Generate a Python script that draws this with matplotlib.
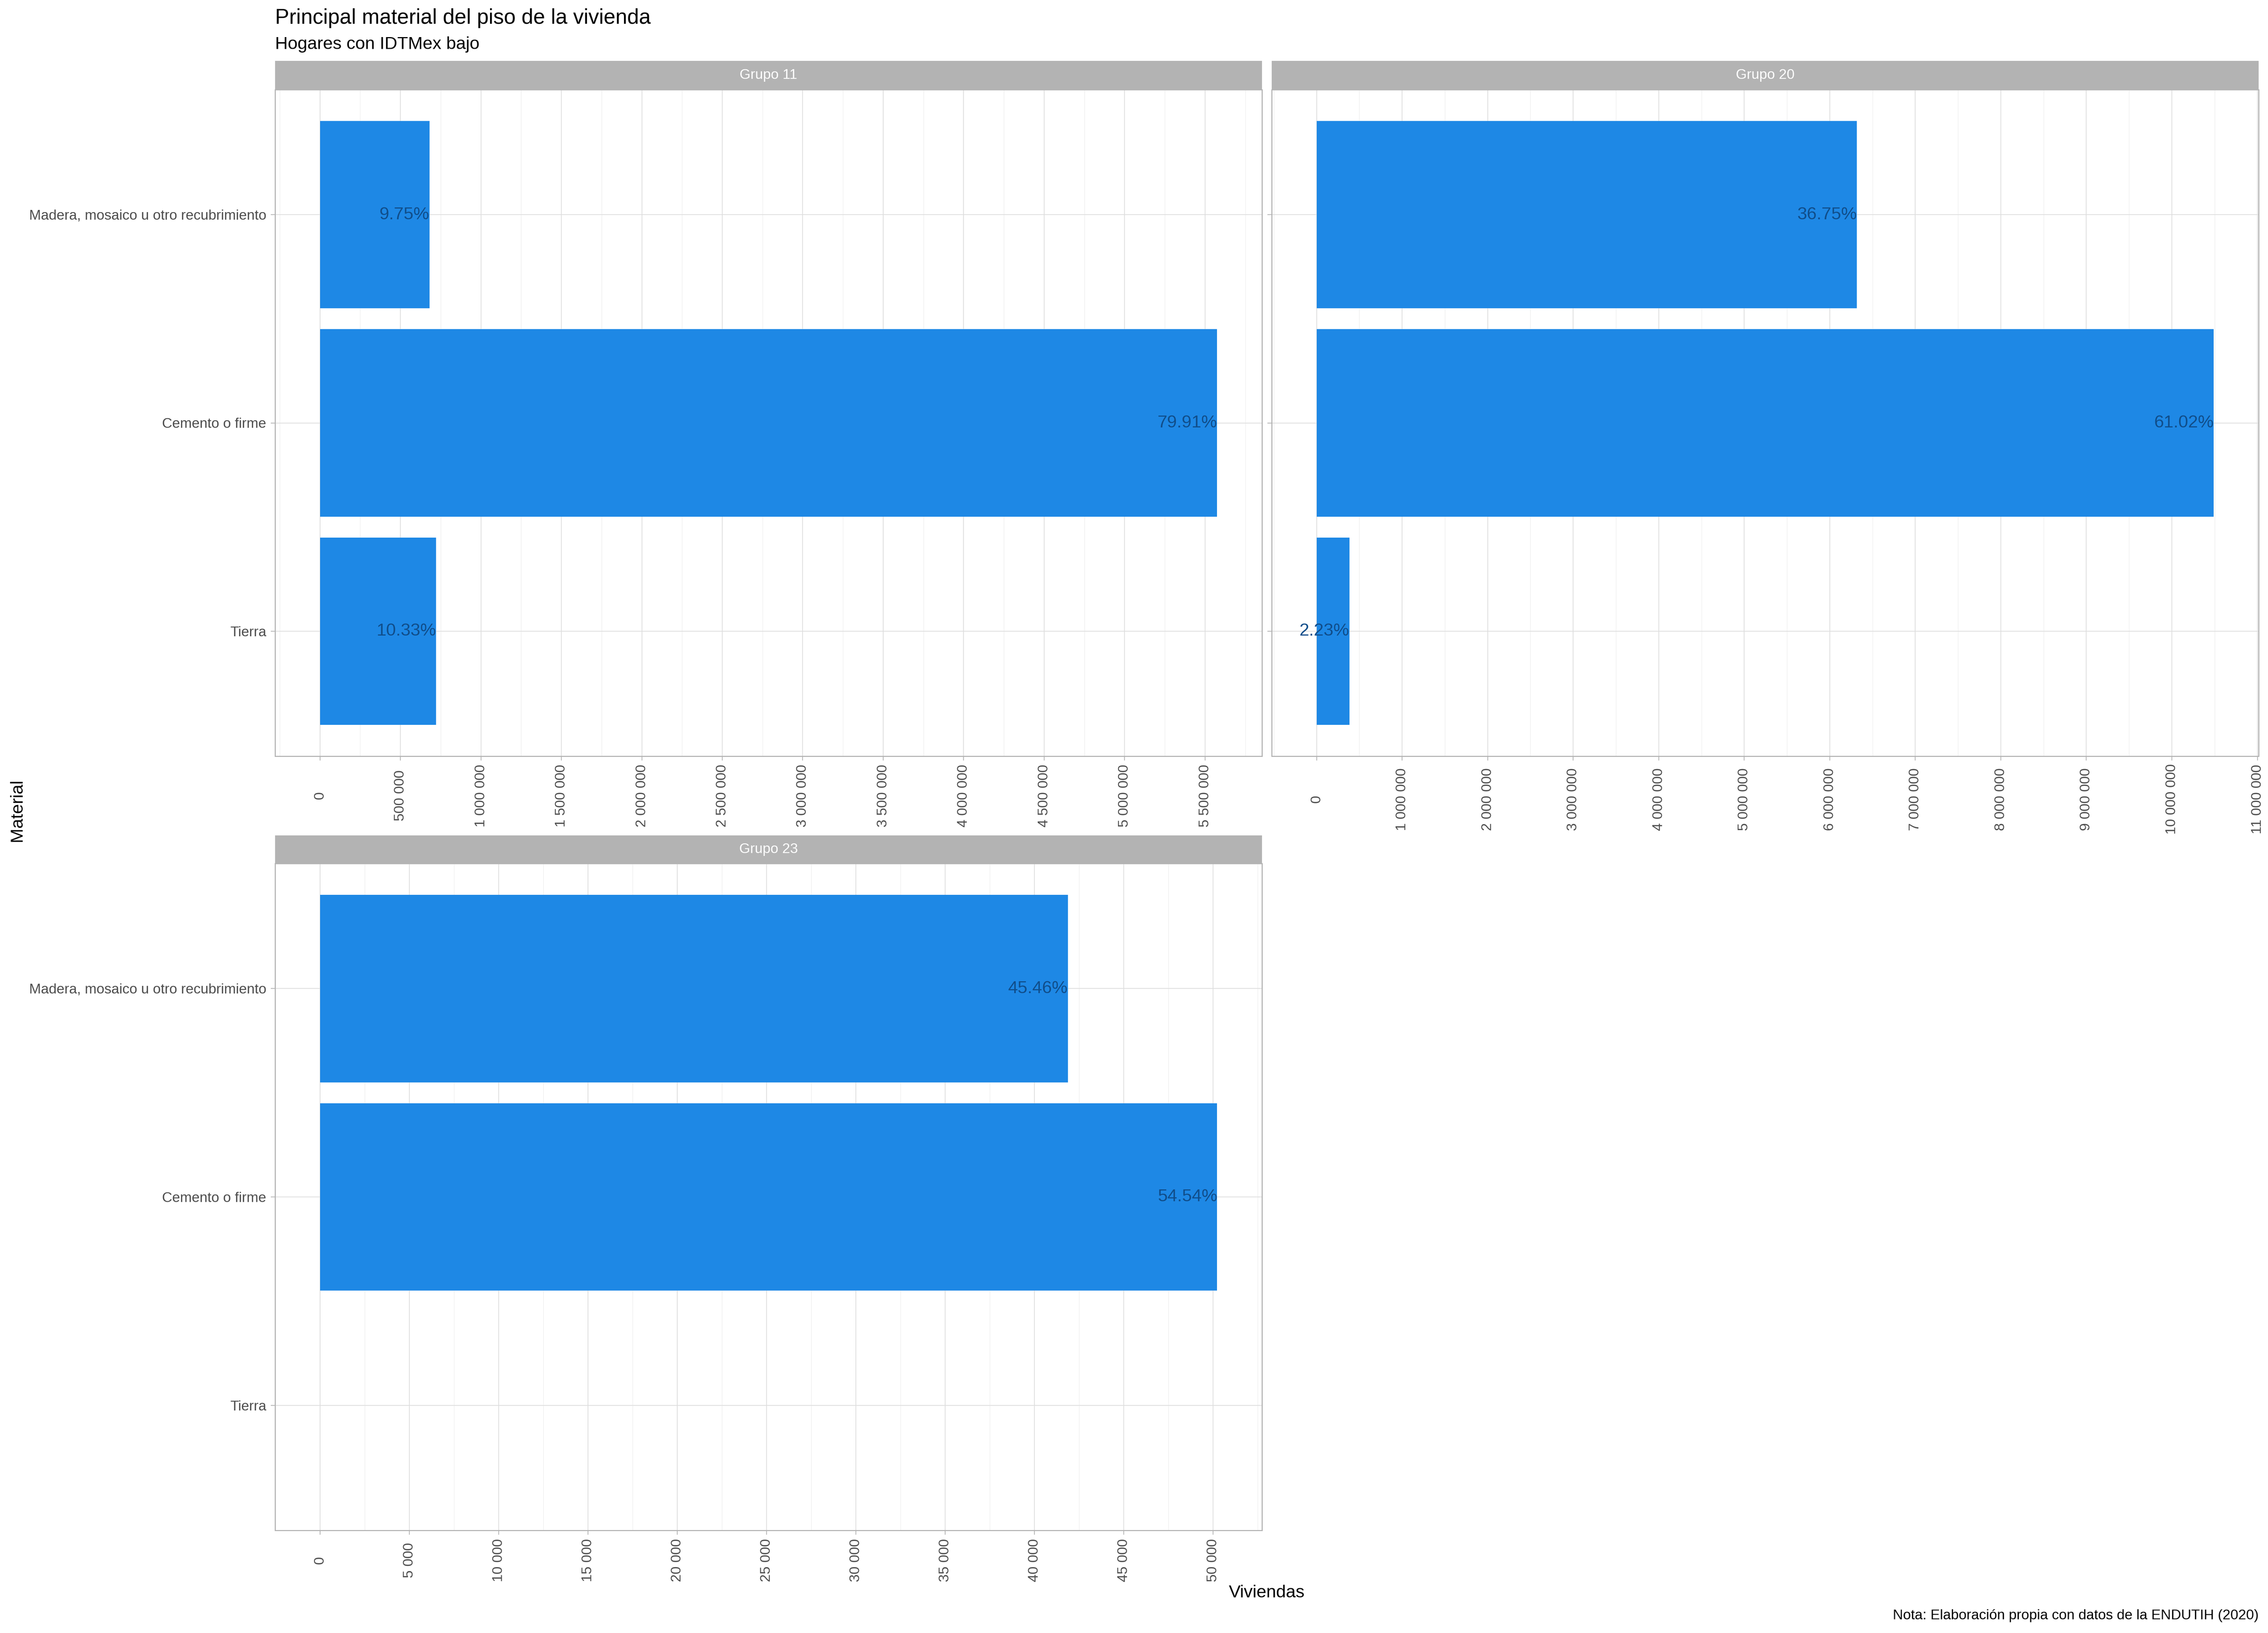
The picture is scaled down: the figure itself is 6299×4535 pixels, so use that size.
import numpy as np
import matplotlib
matplotlib.use("Agg")
import matplotlib.pyplot as plt
from matplotlib.ticker import MultipleLocator, FuncFormatter

plt.rcParams['font.family'] = ['Liberation Sans', 'DejaVu Sans']

# ---------------- data ----------------
materiales = ["Tierra", "Cemento o firme", "Madera, mosaico u otro recubrimiento"]
grupos = ["Grupo 11", "Grupo 20", "Grupo 23"]

viviendas_g11 = [721000, 5575000, 680000]
pct_g11 = [10.33, 79.91, 9.75]

viviendas_g20 = [383000, 10490000, 6318000]
pct_g20 = [2.23, 61.02, 36.75]

viviendas_g23 = [np.nan, 50240, 41880]
pct_g23 = [np.nan, 54.54, 45.46]

paso_ticks = [500000, 1000000, 5000]

# ---------------- layout (pixels of the 6299x4535 canvas) ----------------
W, H = 6299, 4535
fig = plt.figure(figsize=(W / 300, H / 300), dpi=300)

esc = 1.066   # text scale of the original render

def frac(l, r, t, b):
    return [l / W, 1 - b / H, (r - l) / W, (b - t) / H]

paneles = [
    (764, 3505, 249, 2100, 169, 23.4, True),
    (3532, 6273, 249, 2100, 169, 25.8, False),
    (764, 3505, 2398, 4250, 2320, 17.0, True),
]

datos = [(viviendas_g11, pct_g11), (viviendas_g20, pct_g20), (viviendas_g23, pct_g23)]

azul = "#1E88E5"
gris_borde = "#B3B3B3"
gris_grid = "#DEDEDE"
gris_texto = "#4D4D4D"

fmt = FuncFormatter(lambda x, p: f"{x:,.0f}".replace(",", " "))

ypos = np.arange(1, len(materiales) + 1)

for k, (l, r, t, b, st, pad, ylab) in enumerate(paneles):
    vals, pcts = datos[k]
    ax = fig.add_axes(frac(l, r, t, b))
    ax.set_axisbelow(True)
    ax.barh(ypos, vals, height=0.9, color=azul, zorder=2)
    for y, v, p in zip(ypos, vals, pcts):
        if not np.isnan(v):
            ax.text(v, y, f"{p:.2f}%", ha="right", va="center",
                    fontsize=11 * esc, color="#104E8B", zorder=3)
    vmax = np.nanmax(vals)
    ax.set_xlim(-0.05 * vmax, 1.05 * vmax)
    ax.set_ylim(0.4, len(materiales) + 0.6)

    ax.xaxis.set_major_locator(MultipleLocator(paso_ticks[k]))
    ax.xaxis.set_minor_locator(MultipleLocator(paso_ticks[k] / 2))
    ax.xaxis.set_major_formatter(fmt)
    ax.set_yticks(ypos)
    ax.set_yticklabels(materiales if ylab else [])

    ax.grid(which="major", color=gris_grid, linewidth=0.5)
    ax.grid(which="minor", axis="x", color="#ECECEC", linewidth=0.3)
    for s in ax.spines.values():
        s.set_color(gris_borde)
        s.set_linewidth(0.7)

    ax.tick_params(axis="both", which="major", length=2.9, width=0.5,
                   color=gris_borde, labelsize=8.8 * esc, labelcolor=gris_texto)
    ax.tick_params(axis="both", which="minor", length=0)
    ax.tick_params(axis="x", pad=pad)
    ax.tick_params(axis="y", pad=3)
    for lab in ax.get_xticklabels():
        lab.set_rotation(90)
        lab.set_va("center")
        lab.set_ha("center")

    # facet strip
    sax = fig.add_axes(frac(l, r, st, t))
    sax.set_facecolor(gris_borde)
    sax.set_xticks([])
    sax.set_yticks([])
    for s in sax.spines.values():
        s.set_visible(False)
    sax.text(0.5, 0.5, grupos[k], ha="center", va="center",
             fontsize=8.8 * esc, color="white", transform=sax.transAxes)

# ---------------- texts ----------------
fig.text(764 / W, 1 - 66 / H, "Principal material del piso de la vivienda",
         fontsize=13.2 * esc, ha="left", va="baseline")
fig.text(764 / W, 1 - 136 / H, "Hogares con IDTMex bajo",
         fontsize=11 * esc, ha="left", va="baseline")
fig.text(3518 / W, 1 - 4436 / H, "Viviendas", fontsize=11 * esc, ha="center", va="baseline")
fig.text(48 / W, 1 - 2250 / H, "Material", fontsize=11 * esc, rotation=90,
         ha="center", va="center")
fig.text(6273 / W, 1 - 4497 / H, "Nota: Elaboración propia con datos de la ENDUTIH (2020)",
         fontsize=8.8 * esc, ha="right", va="baseline")

fig.savefig("out.png", dpi=300, facecolor="white")
